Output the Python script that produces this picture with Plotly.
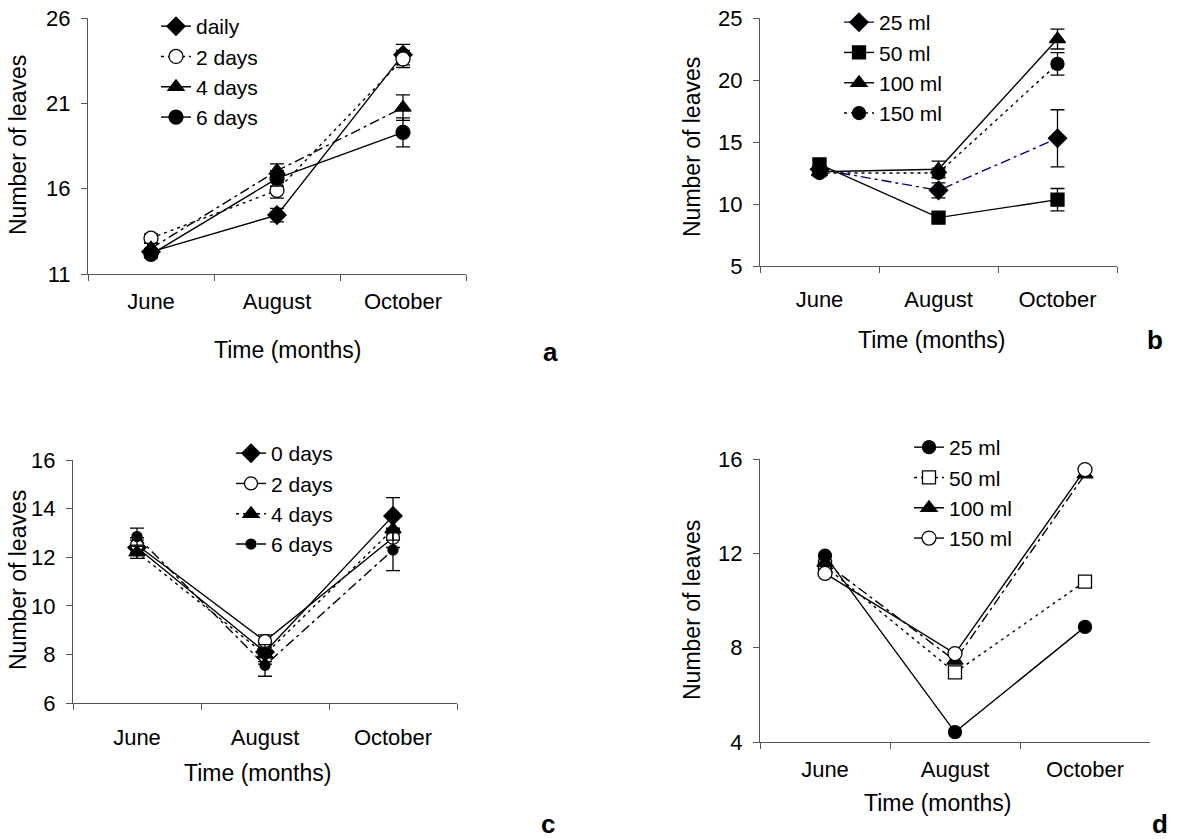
import plotly.graph_objects as go

W, H = 1179, 839
months = ["June", "August", "October"]

# Panel a
a_names = ["daily", "2 days", "4 days", "6 days"]
a_vals = [[12.3, 14.45, 23.85], [13.1, 15.9, 23.6], [12.5, 17.05, 20.75], [12.15, 16.6, 19.3]]
a_err = [[0.2, 0.4, 0.6], [0.25, 0.45, 0.5], [0.3, 0.4, 0.75], [0.2, 0.45, 0.85]]
a_yticks = [11, 16, 21, 26]

# Panel b
b_names = ["25 ml", "50 ml", "100 ml", "150 ml"]
b_vals = [[12.8, 11.1, 15.3], [13.2, 8.9, 10.35], [12.6, 12.8, 23.3], [12.5, 12.5, 21.3]]
b_err = [[0.3, 0.6, 2.3], [0.35, 0.3, 0.9], [0.3, 0.65, 0.8], [0.3, 0.4, 0.9]]
b_yticks = [5, 10, 15, 20, 25]

# Panel c
c_names = ["0 days", "2 days", "4 days", "6 days"]
c_vals = [[12.4, 8.1, 13.7], [12.5, 8.55, 12.8], [12.2, 8.0, 13.15], [12.85, 7.55, 12.3]]
c_err = [[0.3, 0.4, 0.75], [0.3, 0.25, 0.4], [0.25, 0.4, 0.45], [0.35, 0.45, 0.85]]
c_yticks = [6, 8, 10, 12, 14, 16]

# Panel d
d_names = ["25 ml", "50 ml", "100 ml", "150 ml"]
d_vals = [[11.9, 4.42, 8.88], [11.45, 6.95, 10.8], [11.6, 7.45, 15.35], [11.15, 7.75, 15.55]]
d_yticks = [4, 8, 12, 16]

FONT = "Liberation Sans, Arial, sans-serif"
AX = "#555555"
DOT = "3px,4px"
DASHDOT = "10px,4px,3px,4px"

# styles: (dash, symbol, fill, size, linecolor)
a_style = [("solid", "diamond", "black", 14, "black"), (DOT, "circle", "white", 14, "black"),
           (DASHDOT, "triangle-up", "black", 14, "black"), ("solid", "circle", "black", 14, "black")]
b_style = [(DASHDOT, "diamond", "black", 14, "#000080"), ("solid", "square", "black", 13, "black"),
           ("solid", "triangle-up", "black", 14, "black"), (DOT, "circle", "black", 13, "black")]
c_style = [("solid", "diamond", "black", 14, "black"), ("solid", "circle", "white", 13, "black"),
           (DOT, "triangle-up", "black", 14, "black"), (DASHDOT, "circle", "black", 10, "black")]
d_style = [("solid", "circle", "black", 13, "black"), (DOT, "square", "white", 13, "black"),
           (DASHDOT, "triangle-up", "black", 14, "black"), ("solid", "circle", "white", 14, "black")]

fig = go.Figure()

def add_panel(names, vals, errs, styles, xa, ya, leg):
    for i, name in enumerate(names):
        dash, sym, fill, size, lc = styles[i]
        kw = {}
        if errs is not None:
            kw["error_y"] = dict(type="data", array=errs[i], visible=True, color="black",
                                 thickness=1.3, width=7)
        fig.add_trace(go.Scatter(
            x=months, y=vals[i], name=name, mode="lines+markers",
            line=dict(color=lc, width=1.4, dash=dash),
            marker=dict(symbol=sym, size=size, color=fill, line=dict(color="black", width=1.3)),
            xaxis=xa, yaxis=ya, legend=leg, cliponaxis=False, **kw))

add_panel(a_names, a_vals, a_err, a_style, "x", "y", "legend")
add_panel(b_names, b_vals, b_err, b_style, "x2", "y2", "legend2")
add_panel(c_names, c_vals, c_err, c_style, "x3", "y3", "legend3")
add_panel(d_names, d_vals, None, d_style, "x4", "y4", "legend4")

def px_dom_x(l, r):
    return [l / W, r / W]

def px_dom_y(bottom, top):
    return [1 - bottom / H, 1 - top / H]

def xaxis(dom, anchor, standoff):
    return dict(domain=dom, anchor=anchor, type="category", range=[-0.5, 2.5], automargin=False,
                tickson="boundaries", ticks="outside", ticklen=6, tickcolor=AX,
                showline=True, linecolor=AX, linewidth=1, showgrid=False, zeroline=False,
                tickfont=dict(family=FONT, size=22, color="black"), ticklabelstandoff=standoff)

def yaxis(dom, anchor, rng, tv):
    return dict(domain=dom, anchor=anchor, range=rng, tickvals=tv, ticks="outside", ticklen=6,
                tickcolor=AX, showline=True, linecolor=AX, linewidth=1, showgrid=False,
                zeroline=False, tickfont=dict(family=FONT, size=22, color="black"),
                ticklabelstandoff=6, automargin=False)

fig.update_layout(
    width=W, height=H, margin=dict(l=0, r=0, t=0, b=0, pad=0, autoexpand=False),
    paper_bgcolor="white", plot_bgcolor="white", showlegend=True,
    xaxis=xaxis(px_dom_x(88, 466), "y", 8),
    yaxis=yaxis(px_dom_y(274, 18), "x", [11, 26], a_yticks),
    xaxis2=xaxis(px_dom_x(760, 1117), "y2", 14),
    yaxis2=yaxis(px_dom_y(266, 18), "x2", [5, 25], b_yticks),
    xaxis3=xaxis(px_dom_x(73, 457), "y3", 15),
    yaxis3=yaxis(px_dom_y(703, 460), "x3", [6, 16], c_yticks),
    xaxis4=xaxis(px_dom_x(760, 1150), "y4", 8),
    yaxis4=yaxis(px_dom_y(742, 459), "x4", [4, 16], d_yticks),
)

def leg(x, y):
    return dict(x=x / W, y=1 - y / H, xanchor="left", yanchor="top", bgcolor="rgba(0,0,0,0)",
                borderwidth=0, font=dict(family=FONT, size=21, color="black"), tracegroupgap=0)

fig.update_layout(legend=leg(156, 6), legend2=leg(839, 2), legend3=leg(231, 433),
                  legend4=leg(909, 427))

ann = []
def txt(x, y, s, size=23, bold=False, angle=0):
    ann.append(dict(x=x / W, y=1 - y / H, xref="paper", yref="paper", text=("<b>%s</b>" % s) if bold else s,
                    showarrow=False, textangle=angle, xanchor="center", yanchor="middle",
                    font=dict(family=FONT, size=size, color="black")))

txt(287, 350, "Time (months)")
txt(931, 340, "Time (months)")
txt(257, 773, "Time (months)")
txt(937, 803, "Time (months)")
txt(18, 145, "Number of leaves", angle=-90)
txt(692, 147, "Number of leaves", angle=-90)
txt(18, 580, "Number of leaves", angle=-90)
txt(692, 610, "Number of leaves", angle=-90)
txt(550, 352, "a", size=26, bold=True)
txt(1155, 340, "b", size=26, bold=True)
txt(548, 824, "c", size=26, bold=True)
txt(1160, 824, "d", size=26, bold=True)
fig.update_layout(annotations=ann)

fig.write_html("out.html")
